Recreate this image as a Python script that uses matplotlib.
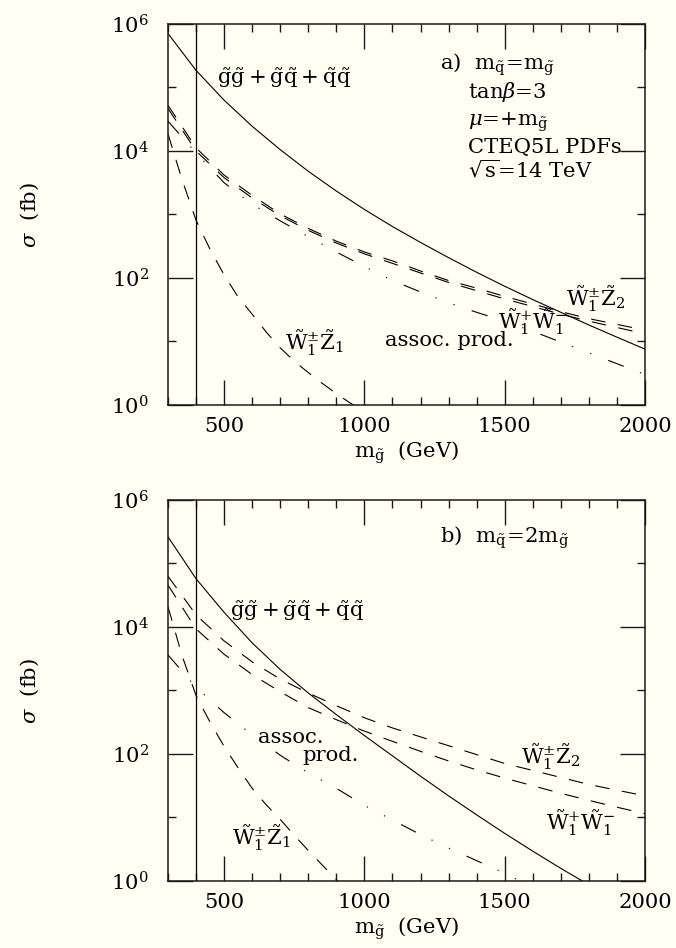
"""Sparticle production cross sections at the LHC versus gluino mass."""
import matplotlib
matplotlib.use("Agg")
import matplotlib.pyplot as plt
from matplotlib.ticker import FixedLocator, FixedFormatter, NullFormatter

plt.rcParams["font.family"] = ["DejaVu Serif"]
plt.rcParams["mathtext.fontset"] = "dejavuserif"
plt.rcParams["lines.scale_dashes"] = False

BG = "#fffff3"
INK = "#1a1a1a"

# gluino mass grid (GeV)
mass = [300, 400, 500, 600, 700, 800, 900, 1000, 1100, 1200,
        1300, 1400, 1500, 1600, 1700, 1800, 1900, 2000]
mass_fine = [300, 350, 400, 450, 500, 550, 600, 650, 700, 750,
             800, 850, 900, 950, 1000]

# ---- a) m_squark = m_gluino  (sigma in fb)
a_strong = [7.08e5, 1.86e5, 6.31e4, 2.45e4, 1.05e4, 4790, 2340, 1200, 646, 363,
            209, 123, 74.1, 45.7, 28.8, 18.2, 11.7, 7.59]
a_w1z2 = [52500, 11200, 4170, 2000, 1020, 603, 380, 257, 186, 129,
          91.2, 69.2, 51.3, 38.9, 29.5, 22.9, 18.6, 15.1]
a_w1w1 = [46800, 10000, 3800, 1820, 955, 562, 355, 240, 170, 120,
          85.1, 63.1, 46.8, 35.5, 26.9, 20.9, 16.6, 13.2]
a_assoc = [29500, 9330, 3160, 1450, 794, 447, 257, 151, 91.2, 60.3,
           40.7, 28.8, 20.9, 14.5, 9.77, 6.61, 4.47, 3.02]
a_w1z1 = [18600, 3550, 813, 282, 112, 50.1, 26.9, 14.1, 7.94, 4.90,
          3.24, 2.19, 1.51, 1.07, 0.79]

# ---- b) m_squark = 2 m_gluino
b_mass_strong = mass[:16]
b_strong = [2.63e5, 57500, 17000, 5620, 2140, 912, 417, 195, 93.3, 44.7,
            21.9, 11.0, 5.62, 2.95, 1.58, 0.87]
b_w1z2 = [63100, 15500, 6030, 2820, 1510, 912, 575, 372, 257, 186,
          135, 97.7, 70.8, 55.0, 42.7, 33.1, 26.9, 21.9]
b_w1w1 = [45700, 9330, 3720, 1780, 955, 537, 347, 229, 158, 110,
          77.6, 56.2, 41.7, 31.6, 24.0, 18.6, 14.5, 11.5]
b_mass_assoc = mass[:14]
b_assoc = [3630, 1120, 447, 200, 95.5, 50.1, 28.8, 15.5, 9.12, 5.37,
           3.31, 2.09, 1.32, 0.79]
b_mass_w1z1 = mass_fine[:14]
b_w1z1 = [20900, 3550, 832, 316, 132, 60.3, 28.8, 15.8, 9.33, 5.25,
          3.02, 1.78, 1.05, 0.63]

x_major = [500, 1000, 1500, 2000]
x_minor = [m for m in range(300, 2001, 100) if m not in x_major]
y_major = [1, 1e2, 1e4, 1e6]
y_minor = [10, 1e3, 1e5]
y_labels = [r"$10^{0}$", r"$10^{2}$", r"$10^{4}$", r"$10^{6}$"]

DASH = (0, (10.5, 9.0))
DASHDOT = (0, (12.0, 12.5, 0.9, 13.0, 0.9, 13.0))
LW = 0.8
FS = 15.2


def frame(ax):
    ax.set_facecolor(BG)
    ax.set_yscale("log")
    ax.set_xlim(300, 2000)
    ax.set_ylim(1, 1e6)
    ax.xaxis.set_major_locator(FixedLocator(x_major))
    ax.xaxis.set_minor_locator(FixedLocator(x_minor))
    ax.yaxis.set_major_locator(FixedLocator(y_major))
    ax.yaxis.set_major_formatter(FixedFormatter(y_labels))
    ax.yaxis.set_minor_locator(FixedLocator(y_minor))
    ax.yaxis.set_minor_formatter(NullFormatter())
    ax.tick_params(which="both", direction="in", top=True, right=True,
                   color=INK, width=1.0, labelsize=FS)
    ax.tick_params(which="major", length=18)
    ax.tick_params(which="minor", length=6)
    ax.tick_params(axis="x", which="major", pad=9)
    ax.tick_params(axis="y", which="major", pad=14)
    for s in ax.spines.values():
        s.set_color(INK)
        s.set_linewidth(1.1)
    ax.axvline(400, color="black", lw=0.9)
    ax.set_xlabel(r"$\mathrm{m}_{\tilde{\mathrm{g}}}$  (GeV)", fontsize=FS, labelpad=2)
    ax.set_ylabel(r"$\sigma$  (fb)", fontsize=FS, labelpad=50)


def label(ax, m, s, txt):
    ax.text(m, s, txt, fontsize=FS, ha="left", va="baseline")


strong_txt = (r"$\tilde{\mathrm{g}}\tilde{\mathrm{g}}+\tilde{\mathrm{g}}\tilde{\mathrm{q}}"
              r"+\tilde{\mathrm{q}}\tilde{\mathrm{q}}$")
w1z2_txt = r"$\tilde{\mathrm{W}}_1^{\pm}\tilde{\mathrm{Z}}_2$"
w1z1_txt = r"$\tilde{\mathrm{W}}_1^{\pm}\tilde{\mathrm{Z}}_1$"
w1w1_txt = r"$\tilde{\mathrm{W}}_1^{+}\tilde{\mathrm{W}}_1^{-}$"

fig = plt.figure(figsize=(6.76, 9.48), dpi=100)
fig.patch.set_facecolor(BG)

# panel a
ax = fig.add_axes([0.2485, 0.5728, 0.7056, 0.4019])
frame(ax)
ax.plot(mass, a_strong, color="black", lw=LW)
ax.plot(mass, a_w1z2, color="black", lw=LW, ls=DASH)
ax.plot(mass, a_w1w1, color="black", lw=LW, ls=DASH)
ax.plot(mass, a_assoc, color="black", lw=LW, ls=DASHDOT)
ax.plot(mass_fine, a_w1z1, color="black", lw=LW, ls=DASH)
label(ax, 475, 1.12e5, strong_txt)
label(ax, 1718, 35.5, w1z2_txt)
label(ax, 1475, 15.5, w1w1_txt)
label(ax, 1075, 8.4, "assoc. prod.")
label(ax, 718, 7.2, w1z1_txt)
info = [
    (0.570, 0.879, r"a)  $\mathrm{m}_{\tilde{\mathrm{q}}}\!=\!\mathrm{m}_{\tilde{\mathrm{g}}}$"),
    (0.629, 0.806, r"tan$\beta$=3"),
    (0.629, 0.732, r"$\mu$=+$\mathrm{m}_{\tilde{\mathrm{g}}}$"),
    (0.629, 0.661, "CTEQ5L PDFs"),
    (0.629, 0.598, r"$\sqrt{\mathrm{s}}$=14 TeV"),
]
for xf, yf, txt in info:
    ax.text(xf, yf, txt, transform=ax.transAxes, fontsize=FS,
            ha="left", va="baseline")

# panel b
ax = fig.add_axes([0.2485, 0.0707, 0.7056, 0.4019])
frame(ax)
ax.plot(b_mass_strong, b_strong, color="black", lw=LW)
ax.plot(mass, b_w1z2, color="black", lw=LW, ls=DASH)
ax.plot(mass, b_w1w1, color="black", lw=LW, ls=DASH)
ax.plot(b_mass_assoc, b_assoc, color="black", lw=LW, ls=DASHDOT)
ax.plot(b_mass_w1z1, b_w1z1, color="black", lw=LW, ls=DASH)
label(ax, 521, 1.44e4, strong_txt)
label(ax, 621, 151, "assoc.")
label(ax, 779, 78, "prod.")
label(ax, 529, 3.6, w1z1_txt)
label(ax, 1557, 68, w1z2_txt)
label(ax, 1646, 6.2, w1w1_txt)
ax.text(0.570, 0.887,
        r"b)  $\mathrm{m}_{\tilde{\mathrm{q}}}\!=\!2\mathrm{m}_{\tilde{\mathrm{g}}}$",
        transform=ax.transAxes, fontsize=FS, ha="left", va="baseline")

fig.savefig("out.png", dpi=100, facecolor=BG)
